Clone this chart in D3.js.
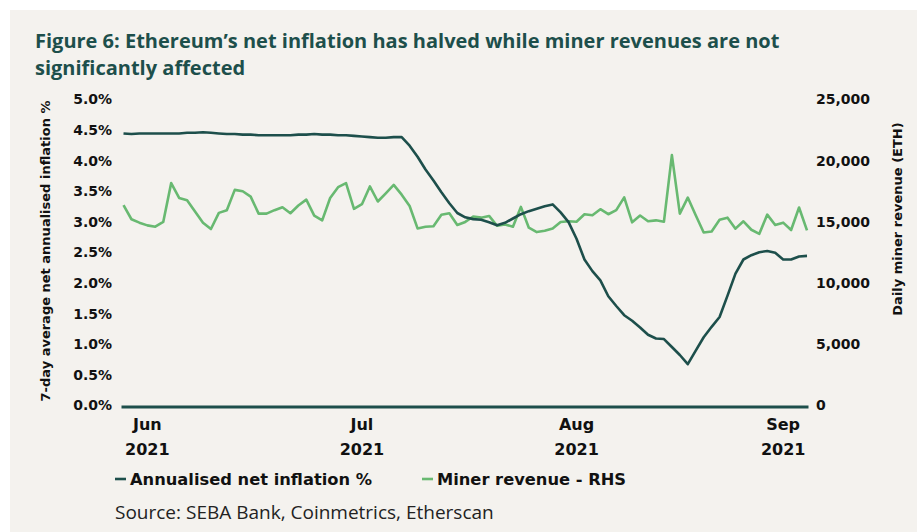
<!DOCTYPE html>
<html>
<head>
<meta charset="utf-8">
<script src="https://cdnjs.cloudflare.com/ajax/libs/d3/7.8.5/d3.min.js"></script>
<style>
  body { margin: 0; background: #ffffff; }
  text { font-family: "DejaVu Sans", sans-serif; }
</style>
</head>
<body>
<svg id="chart" width="917" height="532"></svg>
<script>
// DATA //
// 7-day average net annualised inflation (%), one value per observation
let inflation = [
  4.47, 4.46, 4.47, 4.47, 4.47, 4.47, 4.47, 4.47, 4.48, 4.48,
  4.49, 4.48, 4.47, 4.46, 4.46, 4.45, 4.45, 4.44, 4.44, 4.44,
  4.44, 4.44, 4.45, 4.45, 4.46, 4.45, 4.45, 4.44, 4.44, 4.43,
  4.42, 4.41, 4.40, 4.40, 4.41, 4.41, 4.27, 4.09, 3.88, 3.70,
  3.51, 3.33, 3.17, 3.10, 3.07, 3.06, 3.02, 2.97, 3.01, 3.08,
  3.15, 3.20, 3.24, 3.28, 3.31, 3.18, 3.02, 2.75, 2.41, 2.22,
  2.07, 1.81, 1.65, 1.50, 1.41, 1.30, 1.18, 1.12, 1.11, 0.98,
  0.85, 0.70, 0.92, 1.14, 1.31, 1.47, 1.82, 2.18, 2.41, 2.48,
  2.53, 2.55, 2.52, 2.41, 2.41, 2.46, 2.47
]

// Daily miner revenue (ETH), right hand scale
let minerRevenue = [
  16490, 15340, 15060, 14840, 14730, 15120, 18290, 17080, 16900, 15970,
  15060, 14540, 15860, 16080, 17740, 17630, 17190, 15800, 15800, 16080,
  16320, 15830, 16460, 16940, 15640, 15250, 17080, 17960, 18290, 16190,
  16570, 18020, 16790, 17460, 18150, 17350, 16420, 14590, 14730, 14770,
  15700, 15830, 14870, 15120, 15560, 15470, 15610, 14810, 14920, 14730,
  16350, 14650, 14290, 14400, 14590, 15120, 15170, 15140, 15750, 15660,
  16160, 15750, 16080, 17130, 15090, 15640, 15170, 15250, 15140, 20580,
  15800, 17110, 15660, 14260, 14340, 15290, 15470, 14570, 15170, 14480,
  14150, 15720, 14870, 15060, 14460, 16300, 14430
]

let monthLabels = ["Jun", "Jul", "Aug", "Sep"]
let yearLabels = ["2021", "2021", "2021", "2021"]
let monthTickAt = [3, 30, 57, 83]

let leftTicks = [0, 0.5, 1, 1.5, 2, 2.5, 3, 3.5, 4, 4.5, 5]
let rightTicks = [0, 5000, 10000, 15000, 20000, 25000]

let seriesNames = ["Annualised net inflation %", "Miner revenue - RHS"]

// COLOURS //
let darkTeal = "#1d4f4b"
let green = "#68b971"

let svg = d3.select("#chart")

// beige panel, white strip at top and left
svg.append("rect")
  .attr("x", 10).attr("y", 10)
  .attr("width", 907).attr("height", 522)
  .attr("fill", "#f4f2ee")

// Title
let title = svg.append("text")
  .attr("fill", darkTeal)
  .style("font-family", "'Open Sans', sans-serif")
  .style("font-size", "20px")
  .style("font-weight", 700)
title.append("tspan").attr("x", 35).attr("y", 48)
  .text("Figure 6: Ethereum’s net inflation has halved while miner revenues are not")
title.append("tspan").attr("x", 35).attr("y", 75)
  .text("significantly affected")

// Scales
let x = d3.scaleLinear().domain([0, inflation.length - 1]).range([123.5, 807])
let yL = d3.scaleLinear().domain([0, 5]).range([407, 101])
let yR = d3.scaleLinear().domain([0, 25000]).range([407, 101])

// Left axis labels
let leftAxis = svg.append("g")
  .attr("transform", "translate(112,0)")
  .call(d3.axisLeft(yL).tickValues(leftTicks).tickSize(0).tickPadding(0)
    .tickFormat(d => d3.format(".1f")(d) + "%"))
leftAxis.select(".domain").remove()
leftAxis.selectAll("text")
  .attr("y", -1.5)
  .style("font-family", "'DejaVu Sans', sans-serif")
  .style("font-size", "14px")
  .style("font-weight", 700)
  .attr("fill", "#111")

// Right axis labels
let rightAxis = svg.append("g")
  .attr("transform", "translate(816,0)")
  .call(d3.axisRight(yR).tickValues(rightTicks).tickSize(0).tickPadding(0)
    .tickFormat(d3.format(",")))
rightAxis.select(".domain").remove()
rightAxis.selectAll("text")
  .attr("y", -1.5)
  .style("font-family", "'DejaVu Sans', sans-serif")
  .style("font-size", "14px")
  .style("font-weight", 700)
  .attr("fill", "#111")

// Axis titles
svg.append("text")
  .attr("transform", "translate(50,251) rotate(-90)")
  .attr("text-anchor", "middle")
  .style("font-size", "13px")
  .style("font-weight", 700)
  .attr("fill", "#111")
  .text("7-day average net annualised inflation %")

svg.append("text")
  .attr("transform", "translate(902,219) rotate(-90)")
  .attr("text-anchor", "middle")
  .style("font-size", "13px")
  .style("font-weight", 700)
  .attr("fill", "#111")
  .text("Daily miner revenue (ETH)")

// X axis: zero line plus two line month labels
svg.append("line")
  .attr("x1", 121.5).attr("x2", 808.5)
  .attr("y1", yL(0)).attr("y2", yL(0))
  .attr("stroke", darkTeal)
  .attr("stroke-width", 3)

let xLabels = svg.selectAll(".xlab")
  .data(monthTickAt)
  .enter().append("text")
    .attr("class", "xlab")
    .attr("text-anchor", "middle")
    .style("font-size", "16px")
    .style("font-weight", 700)
    .attr("fill", "#111")
xLabels.append("tspan")
  .attr("x", d => x(d)).attr("y", 430)
  .text((d, i) => monthLabels[i])
xLabels.append("tspan")
  .attr("x", d => x(d)).attr("y", 455)
  .text((d, i) => yearLabels[i])

// Lines
let lineL = d3.line()
  .x((d, i) => x(i))
  .y(d => yL(d))
let lineR = d3.line()
  .x((d, i) => x(i))
  .y(d => yR(d))

svg.append("path")
  .attr("d", lineR(minerRevenue))
  .attr("fill", "none")
  .attr("stroke", green)
  .attr("stroke-width", 2.6)
  .attr("stroke-linejoin", "round")

svg.append("path")
  .attr("d", lineL(inflation))
  .attr("fill", "none")
  .attr("stroke", darkTeal)
  .attr("stroke-width", 2.6)
  .attr("stroke-linejoin", "round")

// Legend
let legendX = [115, 422]
let legendColors = [darkTeal, green]
let legend = svg.selectAll(".legend")
  .data(seriesNames)
  .enter().append("g")
    .attr("class", "legend")
    .attr("transform", (d, i) => "translate(" + legendX[i] + ",479)")
legend.append("line")
  .attr("x1", 0).attr("x2", 11)
  .attr("y1", 0).attr("y2", 0)
  .attr("stroke", (d, i) => legendColors[i])
  .attr("stroke-width", 2.6)
legend.append("text")
  .attr("x", 15)
  .attr("dy", "0.35em")
  .style("font-size", "16.3px")
  .style("font-weight", 700)
  .attr("fill", "#111")
  .text(d => d)

// Source
svg.append("text")
  .attr("x", 115).attr("y", 512)
  .attr("dy", "0.35em")
  .style("font-family", "'Open Sans', sans-serif")
  .style("font-size", "19px")
  .attr("fill", "#222")
  .text("Source: SEBA Bank, Coinmetrics, Etherscan")
</script>
</body>
</html>
